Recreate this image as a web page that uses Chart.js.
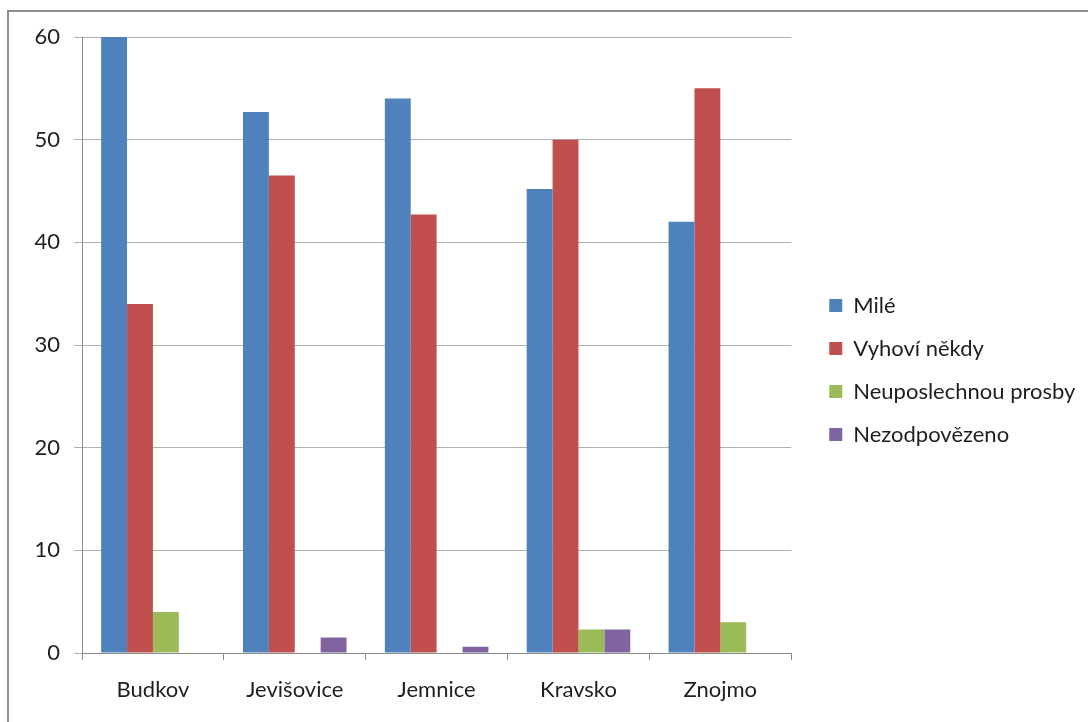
<!DOCTYPE html>
<html>
<head>
<meta charset="utf-8">
<script src="https://cdn.jsdelivr.net/npm/chart.js@4/dist/chart.umd.min.js"></script>
<style>
  html, body { margin: 0; padding: 0; background: #fff; }
  #wrap { position: relative; width: 1088px; height: 722px; overflow: hidden; }
  #frame { position: absolute; left: 7px; top: 10px; width: 1120px; height: 760px;
           border-top: 2px solid #8e8e8e; border-left: 2px solid #8e8e8e; }
  canvas { position: absolute; left: 0; top: 0; }
</style>
</head>
<body>
<div id="wrap">
  <div id="frame"></div>
  <canvas id="chart" width="1088" height="722"></canvas>
</div>
<script>
// data
const towns = ['Budkov', 'Jevišovice', 'Jemnice', 'Kravsko', 'Znojmo'];
const mile = [60, 52.7, 54, 45.2, 42];
const vyhovi = [34, 46.5, 42.7, 50, 55];
const neuposlechnou = [4, 0, 0, 2.3, 3];
const nezodpovezeno = [0, 1.5, 0.6, 2.3, 0];
const yTicks = [0, 10, 20, 30, 40, 50, 60];

Chart.defaults.font.family = 'Lato';
Chart.defaults.font.size = 22;
Chart.defaults.color = '#1e1e1e';

// push the legend a bit away from the plot, like the original
const legendGap = {
    id: 'legendGap',
    afterLayout(chart) {
        chart.legend.left += 17;
        chart.legend.right = chart.width;
    }
};

const ctx = document.getElementById('chart');

let chart = new Chart(ctx, {
    type: 'bar',
    data: {
        labels: towns,
        datasets: [
            { label: 'Milé', data: mile, backgroundColor: '#4F81BD' },
            { label: 'Vyhoví někdy', data: vyhovi, backgroundColor: '#C0504D' },
            { label: 'Neuposlechnou prosby', data: neuposlechnou, backgroundColor: '#9BBB59' },
            { label: 'Nezodpovězeno', data: nezodpovezeno, backgroundColor: '#8064A2' }
        ]
    },
    options: {
        responsive: false,
        animation: false,
        layout: { padding: { top: 37, bottom: 19, left: 0, right: 33 } },
        datasets: { bar: { barPercentage: 1, categoryPercentage: 0.73 } },
        plugins: {
            legend: {
                position: 'right',
                labels: { boxWidth: 13, boxHeight: 13, padding: 21 }
            },
            tooltip: { enabled: false }
        },
        scales: {
            x: {
                afterFit: s => { s.height = 50; },
                grid: { offset: true, drawOnChartArea: false, tickLength: 7, color: '#8c8c8c' },
                border: { color: '#8c8c8c' },
                ticks: { padding: 17 }
            },
            y: {
                min: 0,
                max: 60,
                afterBuildTicks: s => { s.ticks = yTicks.map(v => ({ value: v })); },
                afterFit: s => { s.width = 82; },
                grid: { color: '#b0b0b0', tickLength: 8 },
                border: { color: '#8c8c8c' },
                ticks: { padding: 14 }
            }
        }
    },
    plugins: [legendGap]
});
</script>
</body>
</html>
